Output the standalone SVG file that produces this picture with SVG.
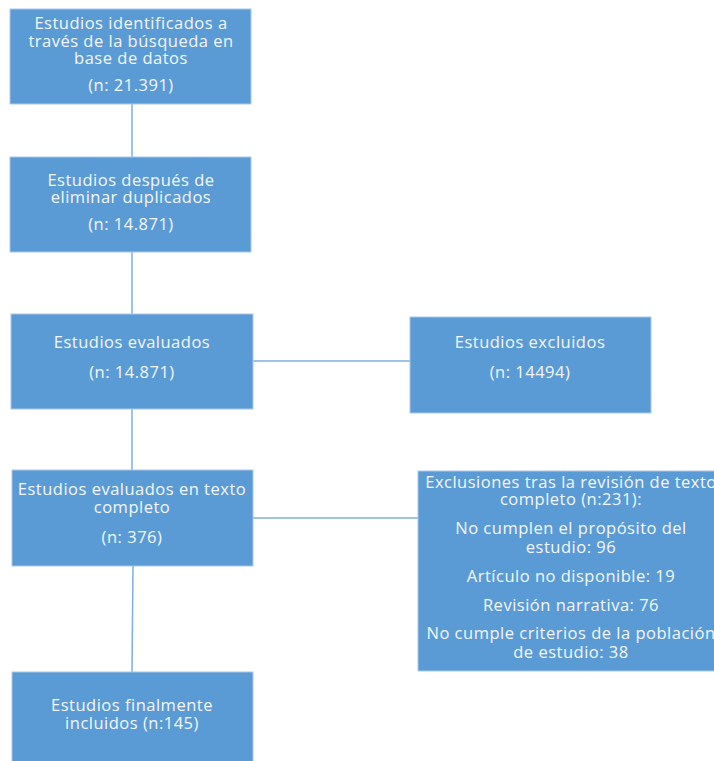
<svg xmlns="http://www.w3.org/2000/svg" width="714" height="761" viewBox="0 0 714 761">
<style>
.box{fill:#5b9bd5;stroke:#a9c8ea;stroke-width:1}
.t{font-family:"Open Sans","Noto Sans",sans-serif;font-size:16.5px;letter-spacing:0.5px;fill:#f4f7fb;text-anchor:middle}
.c{stroke:#7eaee0;stroke-width:1.5;fill:none}
</style>
<rect width="714" height="761" fill="#ffffff"/>
<g id="connectors">
<line class="c" x1="132" y1="104" x2="132" y2="157"/>
<line class="c" x1="132" y1="252" x2="132" y2="314"/>
<line class="c" x1="132" y1="409" x2="132" y2="470"/>
<line class="c" x1="253" y1="361" x2="410" y2="361"/>
<line class="c" x1="133" y1="566" x2="132" y2="672"/>
<line class="c" x1="253" y1="518" x2="418" y2="518"/>
</g>
<g id="n1">
<rect class="box" x="10" y="9" width="241" height="95"/>
<text class="t" x="131" y="29">Estudios identificados a</text>
<text class="t" x="131" y="47">través de la búsqueda en</text>
<text class="t" x="131" y="64">base de datos</text>
<text class="t" x="131" y="91">(n: 21.391)</text>
</g>
<g id="n2">
<rect class="box" x="10" y="157" width="241" height="95"/>
<text class="t" x="131" y="186">Estudios después de</text>
<text class="t" x="131" y="203">eliminar duplicados</text>
<text class="t" x="131" y="230">(n: 14.871)</text>
</g>
<g id="n3">
<rect class="box" x="11" y="314" width="242" height="95"/>
<text class="t" x="132" y="348">Estudios evaluados</text>
<text class="t" x="132" y="378">(n: 14.871)</text>
</g>
<g id="n4">
<rect class="box" x="410" y="317" width="241" height="96"/>
<text class="t" x="530" y="348">Estudios excluidos</text>
<text class="t" x="530" y="378">(n: 14494)</text>
</g>
<g id="n5">
<rect class="box" x="12" y="470" width="241" height="96"/>
<text class="t" x="132" y="495">Estudios evaluados en texto</text>
<text class="t" x="132" y="513">completo</text>
<text class="t" x="132" y="543">(n: 376)</text>
</g>
<g id="n6">
<rect class="box" x="418" y="471" width="310" height="200"/>
<text class="t" x="571" y="488">Exclusiones tras la revisión de texto</text>
<text class="t" x="571" y="505">completo (n:231):</text>
<text class="t" x="571" y="534">No cumplen el propósito del</text>
<text class="t" x="571" y="553">estudio: 96</text>
<text class="t" x="571" y="582">Artículo no disponible: 19</text>
<text class="t" x="571" y="611">Revisión narrativa: 76</text>
<text class="t" x="571" y="639">No cumple criterios de la población</text>
<text class="t" x="571" y="658">de estudio: 38</text>
</g>
<g id="n7">
<rect class="box" x="12" y="672" width="241" height="95"/>
<text class="t" x="132" y="711">Estudios finalmente</text>
<text class="t" x="132" y="729">incluidos (n:145)</text>
</g>
</svg>
